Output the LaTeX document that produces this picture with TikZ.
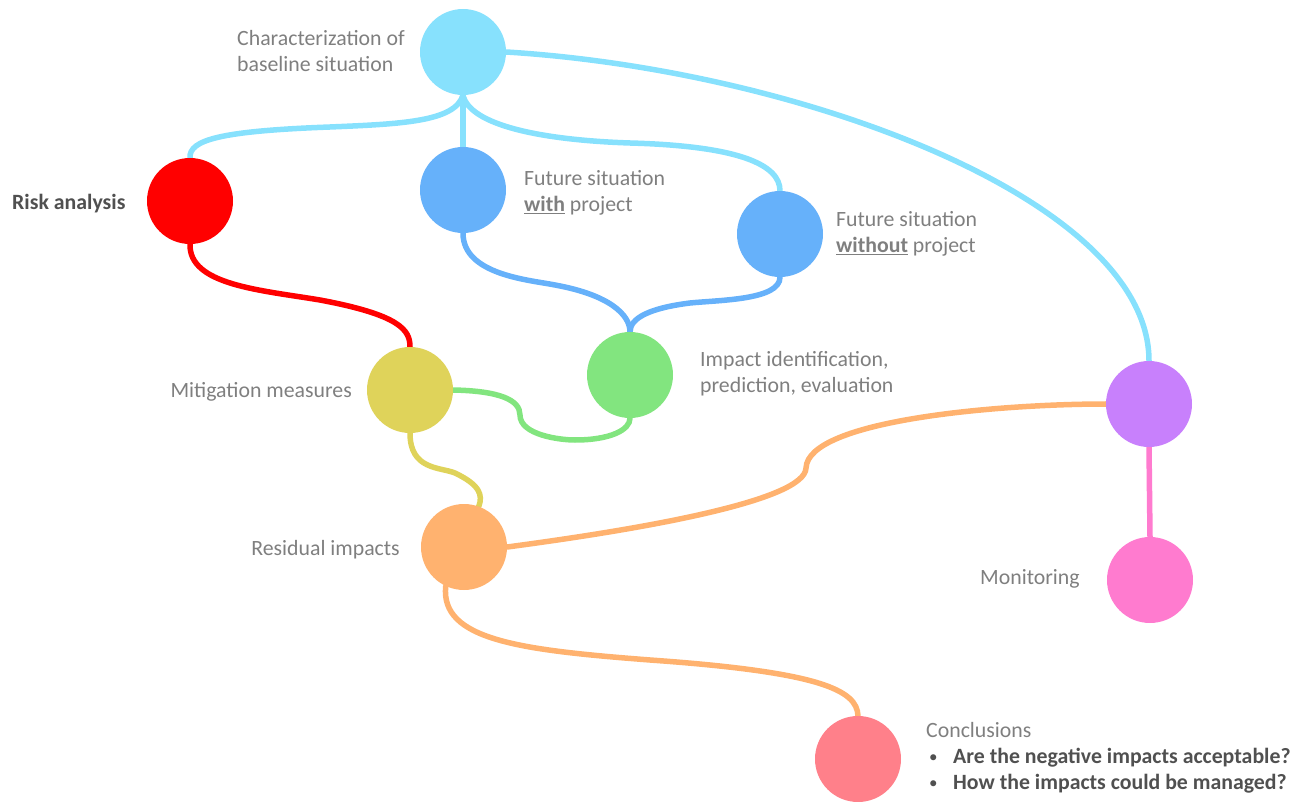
\documentclass[tikz,border=0pt]{standalone}
\usepackage{fontspec}
\setmainfont{Carlito}
\usetikzlibrary{backgrounds}
\begin{document}
\definecolor{cBase}{HTML}{87E1FD}
\definecolor{cRisk}{HTML}{FF0000}
\definecolor{cFut}{HTML}{66B1FA}
\definecolor{cImp}{HTML}{82E57F}
\definecolor{cMit}{HTML}{DFD35A}
\definecolor{cRes}{HTML}{FFB26F}
\definecolor{cMon}{HTML}{C880FC}
\definecolor{cPink}{HTML}{FF7BCF}
\definecolor{cCon}{HTML}{FF808A}
\definecolor{txt}{HTML}{7F7F7F}
\definecolor{txtdark}{HTML}{505050}
\newcommand{\bulletmark}{\makebox[27pt][l]{\hspace{3pt}\raisebox{1.5pt}{\fontsize{17}{17}\selectfont•}}}
\begin{tikzpicture}[x=1pt,y=-1pt,
  dot/.style={circle,minimum size=86pt,inner sep=0pt,draw=none},
  link/.style={line width=5.5pt,line cap=round},
  lbl/.style={inner sep=0pt,text=txt,align=left,font=\fontsize{21.8}{26}\selectfont},
]
\useasboundingbox (0,0) rectangle (1302,802);

% stages
\node[dot,fill=cBase] (base) at (463,52) {};
\node[dot,fill=cRisk] (risk) at (190,201) {};
\node[dot,fill=cFut]  (fwith) at (463,190) {};
\node[dot,fill=cFut]  (fwithout) at (780,234) {};
\node[dot,fill=cImp]  (imp) at (630,375) {};
\node[dot,fill=cMit]  (mit) at (410,390) {};
\node[dot,fill=cRes]  (res) at (464,547) {};
\node[dot,fill=cMon]  (mon) at (1149,404) {};
\node[dot,fill=cPink] (pink) at (1150,580) {};
\node[dot,fill=cCon]  (con) at (858,759) {};

% connectors, drawn beneath the circles
\begin{scope}[on background layer]
\draw[link,cBase] (base.south) .. controls (455,122) and (400,124) .. (330,127)
  .. controls (220,131) and (189,140) .. (risk.north);
\draw[link,cBase] (base.south) -- (fwith.north);
\draw[link,cBase] (base.south) .. controls (470,125) and (540,140) .. (630,143)
  .. controls (740,146) and (780,165) .. (fwithout.north);
\draw[link,cBase] (base.east) .. controls (800,70) and (1149,200) .. (mon.north);
\draw[link,cFut] (fwith.south) .. controls (463,275) and (530,280) .. (555,285)
  .. controls (610,295) and (630,315) .. (imp.north);
\draw[link,cFut] (fwithout.south) .. controls (780,300) and (720,300) .. (690,303)
  .. controls (650,308) and (630,318) .. (imp.north);
\draw[link,cRisk] (risk.south) .. controls (189,285) and (260,290) .. (320,300)
  .. controls (400,315) and (410,330) .. (mit.north);
\draw[link,cImp] (mit.east) .. controls (500,391) and (520,400) .. (520,415)
  .. controls (520,435) and (560,440) .. (575,440)
  .. controls (610,440) and (630,430) .. (imp.south);
\draw[link,cMit] (mit.south) .. controls (410,470) and (440,467) .. (455,473)
  .. controls (480,485) and (483,495) .. (res.70);
\draw[link,cRes] (res.east) .. controls (650,528) and (805,500) .. (806,468)
  .. controls (808,420) and (1000,404) .. (mon.west);
\draw[link,cRes] (res.-115) .. controls (440,640) and (520,650) .. (650,660)
  .. controls (820,672) and (857,690) .. (con.north);
\draw[link,cPink] (mon.south) -- (pink.north);
\end{scope}

% texts
\node[lbl,anchor=west] (tbase) at (237,51) {Characterization of\\baseline situation};
\node[lbl,anchor=west,text=txtdark,font=\fontsize{21.8}{26}\selectfont\bfseries] (trisk) at (12,204) {Risk analysis};
\node[lbl,anchor=west] (twith) at (524,193) {Future situation\\\underline{\textbf{with}} project};
\node[lbl,anchor=west] (twithout) at (836,234) {Future situation\\\underline{\textbf{without}} project};
\node[lbl,anchor=west] (timp) at (700,374) {Impact identification,\\prediction, evaluation};
\node[lbl,anchor=east] (tmit) at (352,392) {Mitigation measures};
\node[lbl,anchor=east] (tres) at (400,550) {Residual impacts};
\node[lbl,anchor=west] (tmon) at (980,579) {Monitoring};
\node[lbl,anchor=west] (tcon) at (926,758) {Conclusions\\
  {\color{txtdark}\bulletmark\textbf{Are the negative impacts acceptable?}}\\
  {\color{txtdark}\bulletmark\textbf{How the impacts could be managed?}}};
\end{tikzpicture}
\end{document}
